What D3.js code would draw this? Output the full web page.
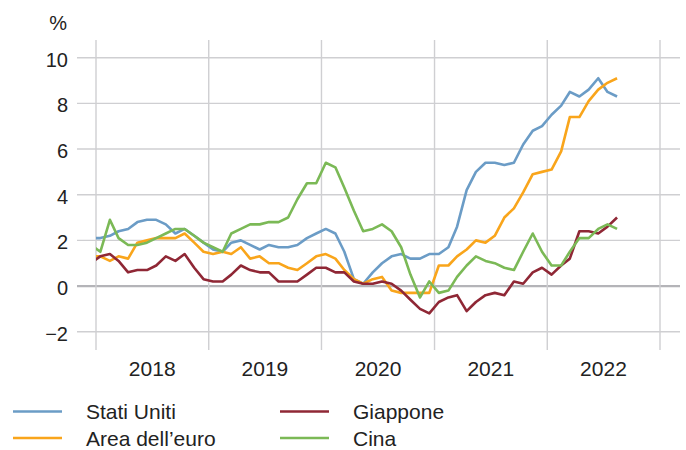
<!DOCTYPE html>
<html>
<head>
<meta charset="utf-8">
<script src="https://cdn.jsdelivr.net/npm/d3@7"></script>
<style>
  body { margin: 0; background: #fff; }
  svg { font-family: "Liberation Sans", Arial, sans-serif; }
</style>
</head>
<body>
<div id="chart"></div>
<script>
var width = 686,
    height = 450;

// monthly data, dec 2017 - aug 2022 (dec 2017 only feeds the clipped start of the lines)
const months = ["2017-12",
  "2018-01", "2018-02", "2018-03", "2018-04", "2018-05", "2018-06", "2018-07", "2018-08", "2018-09", "2018-10", "2018-11", "2018-12",
  "2019-01", "2019-02", "2019-03", "2019-04", "2019-05", "2019-06", "2019-07", "2019-08", "2019-09", "2019-10", "2019-11", "2019-12",
  "2020-01", "2020-02", "2020-03", "2020-04", "2020-05", "2020-06", "2020-07", "2020-08", "2020-09", "2020-10", "2020-11", "2020-12",
  "2021-01", "2021-02", "2021-03", "2021-04", "2021-05", "2021-06", "2021-07", "2021-08", "2021-09", "2021-10", "2021-11", "2021-12",
  "2022-01", "2022-02", "2022-03", "2022-04", "2022-05", "2022-06", "2022-07", "2022-08"];

const statiUniti = [2.1,
  2.1, 2.2, 2.4, 2.5, 2.8, 2.9, 2.9, 2.7, 2.3, 2.5, 2.2, 1.9,
  1.6, 1.5, 1.9, 2.0, 1.8, 1.6, 1.8, 1.7, 1.7, 1.8, 2.1, 2.3,
  2.5, 2.3, 1.5, 0.3, 0.1, 0.6, 1.0, 1.3, 1.4, 1.2, 1.2, 1.4,
  1.4, 1.7, 2.6, 4.2, 5.0, 5.4, 5.4, 5.3, 5.4, 6.2, 6.8, 7.0,
  7.5, 7.9, 8.5, 8.3, 8.6, 9.1, 8.5, 8.3];

const areaEuro = [1.3,
  1.3, 1.1, 1.3, 1.2, 1.9, 2.0, 2.1, 2.1, 2.1, 2.3, 1.9, 1.5,
  1.4, 1.5, 1.4, 1.7, 1.2, 1.3, 1.0, 1.0, 0.8, 0.7, 1.0, 1.3,
  1.4, 1.2, 0.7, 0.3, 0.1, 0.3, 0.4, -0.2, -0.3, -0.3, -0.3, -0.3,
  0.9, 0.9, 1.3, 1.6, 2.0, 1.9, 2.2, 3.0, 3.4, 4.1, 4.9, 5.0,
  5.1, 5.9, 7.4, 7.4, 8.1, 8.6, 8.9, 9.1];

const giappone = [1.0,
  1.3, 1.4, 1.1, 0.6, 0.7, 0.7, 0.9, 1.3, 1.1, 1.4, 0.8, 0.3,
  0.2, 0.2, 0.5, 0.9, 0.7, 0.6, 0.6, 0.2, 0.2, 0.2, 0.5, 0.8,
  0.8, 0.6, 0.6, 0.2, 0.1, 0.1, 0.2, 0.1, -0.2, -0.6, -1.0, -1.2,
  -0.7, -0.5, -0.4, -1.1, -0.7, -0.4, -0.3, -0.4, 0.2, 0.1, 0.6, 0.8,
  0.5, 0.9, 1.2, 2.4, 2.4, 2.3, 2.6, 3.0];

const cina = [1.8,
  1.5, 2.9, 2.1, 1.8, 1.8, 1.9, 2.1, 2.3, 2.5, 2.5, 2.2, 1.9,
  1.7, 1.5, 2.3, 2.5, 2.7, 2.7, 2.8, 2.8, 3.0, 3.8, 4.5, 4.5,
  5.4, 5.2, 4.3, 3.3, 2.4, 2.5, 2.7, 2.4, 1.7, 0.5, -0.5, 0.2,
  -0.3, -0.2, 0.4, 0.9, 1.3, 1.1, 1.0, 0.8, 0.7, 1.5, 2.3, 1.5,
  0.9, 0.9, 1.5, 2.1, 2.1, 2.5, 2.7, 2.5];

const yTicks = [-2, 0, 2, 4, 6, 8, 10];
const years = [2018, 2019, 2020, 2021, 2022];

const series = [
  { name: "Stati Uniti", values: statiUniti, color: "#6b9cc6" },
  { name: "Area dell\u2019euro", values: areaEuro, color: "#f9a51b" },
  { name: "Giappone", values: giappone, color: "#8f2735" },
  { name: "Cina", values: cina, color: "#7bb956" }
];

var plot = { left: 96, right: 660, top: 40, bottom: 350 };

var x = d3.scaleTime()
    .domain([new Date(2018, 0, 1), new Date(2023, 0, 1)])
    .range([plot.left, plot.right]);

var y = d3.scaleLinear()
    .domain([-2, 10])
    .range([331.7, 57.7]);

// points sit in the middle of each month
function monthDate(s) {
    var p = s.split("-");
    return new Date(+p[0], +p[1] - 1, 15);
}

var svg = d3.select("#chart")
    .append("svg")
    .attr("width", width)
    .attr("height", height);

svg.append("defs").append("clipPath")
    .attr("id", "clip")
    .append("rect")
    .attr("x", plot.left)
    .attr("y", 0)
    .attr("width", width - plot.left)
    .attr("height", height);

// horizontal grid
svg.append("g")
    .selectAll("line")
    .data(yTicks)
    .join("line")
    .attr("x1", 77)
    .attr("x2", 680)
    .attr("y1", d => y(d))
    .attr("y2", d => y(d))
    .attr("stroke", d => d === 0 ? "#b4b4b8" : "#cfcfd2")
    .attr("stroke-width", d => d === 0 ? 2.2 : 1.4);

// vertical grid at year boundaries
svg.append("g")
    .selectAll("line")
    .data(d3.range(2018, 2024))
    .join("line")
    .attr("x1", d => x(new Date(d, 0, 1)))
    .attr("x2", d => x(new Date(d, 0, 1)))
    .attr("y1", plot.top)
    .attr("y2", plot.bottom)
    .attr("stroke", "#cfcfd2")
    .attr("stroke-width", 1.4);

// y tick labels
svg.append("g")
    .selectAll("text")
    .data(yTicks)
    .join("text")
    .attr("x", 68)
    .attr("y", d => y(d) + 9)
    .attr("text-anchor", "end")
    .attr("font-size", "20px")
    .attr("fill", "#222")
    .text(d => d < 0 ? "\u2212" + Math.abs(d) : d);

svg.append("text")
    .attr("x", 67)
    .attr("y", 30)
    .attr("text-anchor", "end")
    .attr("font-size", "20px")
    .attr("fill", "#222")
    .text("%");

// year labels centred on each year
svg.append("g")
    .selectAll("text")
    .data(years)
    .join("text")
    .attr("x", d => x(new Date(d, 6, 2)))
    .attr("y", 375.5)
    .attr("text-anchor", "middle")
    .attr("font-size", "21px")
    .attr("fill", "#222")
    .text(d => d);

var line = d3.line()
    .x((d, i) => x(monthDate(months[i])))
    .y(d => y(d));

svg.append("g")
    .attr("clip-path", "url(#clip)")
    .selectAll("path")
    .data(series)
    .join("path")
    .attr("d", d => line(d.values))
    .attr("fill", "none")
    .attr("stroke", d => d.color)
    .attr("stroke-width", 2.6)
    .attr("stroke-linejoin", "round");

// legend, two columns (second row nudged up so it stays inside the frame)
var legend = svg.append("g")
    .selectAll("g")
    .data(series)
    .join("g")
    .attr("transform", (d, i) => "translate(" + (i < 2 ? 13 : 280) + "," + (i % 2 === 0 ? 411.5 : 438) + ")");

legend.append("line")
    .attr("x1", 0)
    .attr("x2", 49)
    .attr("stroke", d => d.color)
    .attr("stroke-width", 2.6);

legend.append("text")
    .attr("x", 73)
    .attr("y", 7.5)
    .attr("font-size", "21px")
    .attr("fill", "#222")
    .text(d => d.name);
</script>
</body>
</html>
